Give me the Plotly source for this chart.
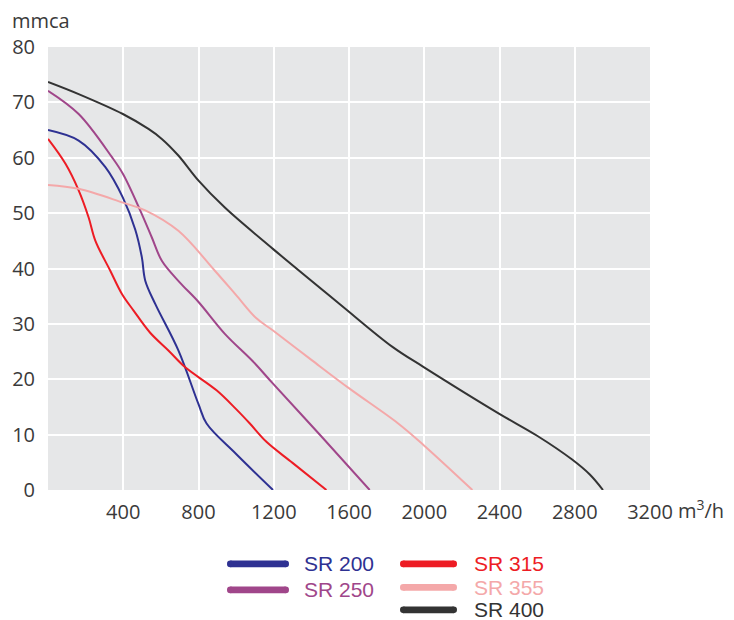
import plotly.graph_objects as go

# ---- data ----
sr200_x = [0, 163, 305, 398, 464, 499, 517, 570, 693, 800, 843, 1000, 1196]
sr200_y = [65.0, 63.1, 58.3, 52.8, 47.0, 42.0, 37.8, 33.6, 25.2, 15.5, 12.0, 6.5, 0]

sr250_x = [0, 163, 340, 398, 490, 552, 605, 700, 799, 940, 1090, 1196, 1450, 1710]
sr250_y = [72.1, 67.9, 60.1, 57.1, 50.5, 45.6, 41.4, 37.5, 34.0, 28.2, 23.2, 19.2, 9.8, 0]

sr315_x = [0, 93, 163, 216, 252, 331, 393, 455, 543, 640, 728, 896, 1000, 1073, 1161, 1300, 1480]
sr315_y = [63.4, 58.9, 54.1, 49.2, 45.0, 39.6, 35.4, 32.4, 28.4, 25.2, 22.2, 18.0, 14.6, 12.0, 8.7, 4.9, 0]

sr355_x = [0, 163, 398, 517, 693, 887, 1000, 1108, 1196, 1400, 1603, 1858, 1997, 2256]
sr355_y = [55.1, 54.4, 51.9, 50.5, 46.8, 39.6, 35.2, 31.0, 28.8, 23.5, 18.3, 12.1, 8.1, 0]

sr400_x = [0, 163, 398, 534, 605, 693, 799, 940, 1197, 1550, 1833, 1997, 2397, 2600, 2786, 2880, 2950]
sr400_y = [73.7, 71.5, 67.9, 65.2, 63.4, 60.4, 55.9, 51.0, 43.5, 33.6, 25.8, 22.2, 13.8, 9.8, 5.5, 2.8, 0]

names = ["SR 200", "SR 250", "SR 315", "SR 355", "SR 400"]
colors = ["#2e3192", "#a0468a", "#ed1c24", "#f4a8a9", "#333333"]
xs = [sr200_x, sr250_x, sr315_x, sr355_x, sr400_x]
ys = [sr200_y, sr250_y, sr315_y, sr355_y, sr400_y]

x_ticks = [400, 800, 1200, 1600, 2000, 2400, 2800, 3200]
y_ticks = [0, 10, 20, 30, 40, 50, 60, 70, 80]
x_unit = "m<sup>3</sup>/h"
y_unit = "mmca"

FONT = "Open Sans"
LFONT = "Arial, Liberation Sans, sans-serif"
TXT = "#3a3a3a"
OFF = 8  # page body margin
W, H = 734 - OFF, 620 - OFF
L, R, T, B = 48 - OFF, 650 - OFF, 46.5 - OFF, 490 - OFF

fig = go.Figure()
for n, c, x, y in zip(names, colors, xs, ys):
    fig.add_trace(go.Scatter(x=x, y=y, mode="lines", name=n,
                             line=dict(color=c, width=2, shape="spline", smoothing=1.0),
                             showlegend=False, hoverinfo="skip"))

def px_x(p):
    return (p - OFF - L) / (R - L)

def px_y(p):
    return (B - (p - OFF)) / (B - T)

# manual legend (pixel positions in the reference)
legend_items = [
    (0, 227, 289, 564, 302),
    (1, 227, 289, 590, 302),
    (2, 400, 457, 564, 472),
    (3, 400, 457, 587.5, 472),
    (4, 400, 457, 610, 472),
]
rad = 3.3
for i, x0, x1, yy, tx in legend_items:
    fig.add_shape(type="line", xref="paper", yref="paper",
                  x0=px_x(x0 + rad), x1=px_x(x1 - rad), y0=px_y(yy), y1=px_y(yy),
                  line=dict(color=colors[i], width=6.6))
    for cx in (x0 + rad, x1 - rad):
        fig.add_shape(type="circle", xref="paper", yref="paper",
                      x0=px_x(cx - rad), x1=px_x(cx + rad),
                      y0=px_y(yy + rad), y1=px_y(yy - rad),
                      fillcolor=colors[i], line=dict(width=0))
    fig.add_annotation(xref="paper", yref="paper", x=px_x(tx), y=px_y(yy),
                       text=names[i], showarrow=False, xanchor="left", yanchor="middle",
                       font=dict(family=LFONT, size=21, color=colors[i]))

fig.add_annotation(xref="paper", yref="paper", x=px_x(10), y=px_y(20),
                   text=y_unit, showarrow=False, xanchor="left", yanchor="middle",
                   font=dict(family=FONT, size=20, color=TXT))
fig.add_annotation(xref="paper", yref="paper", x=px_x(676), y=px_y(510),
                   text=x_unit, showarrow=False, xanchor="left", yanchor="middle",
                   font=dict(family=FONT, size=20, color=TXT))

fig.update_layout(
    width=W, height=H,
    margin=dict(l=L, r=W - R, t=T, b=H - B, autoexpand=False),
    paper_bgcolor="white", plot_bgcolor="#e6e7e8",
    font=dict(family=FONT, size=20, color=TXT),
    showlegend=False,
)
fig.update_xaxes(range=[0, 3200], tickvals=x_ticks, ticktext=[str(v) for v in x_ticks],
                 showgrid=True, gridcolor="white", gridwidth=2, zeroline=False,
                 showline=False, ticks="", ticklabelstandoff=8, automargin=False,
                 tickfont=dict(family=FONT, size=20, color=TXT))
fig.update_yaxes(range=[0, 80], tickvals=y_ticks, ticktext=[str(v) for v in y_ticks],
                 showgrid=True, gridcolor="white", gridwidth=2, zeroline=False,
                 showline=False, ticks="", ticklabelstandoff=12, automargin=False,
                 tickfont=dict(family=FONT, size=20, color=TXT))

fig.write_html("out.html")
